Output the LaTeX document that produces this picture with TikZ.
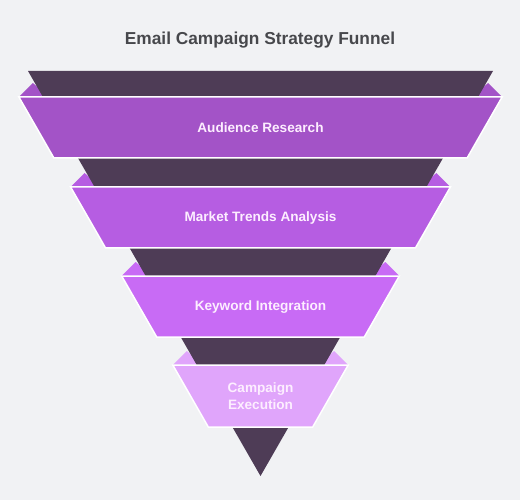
\documentclass[tikz,border=0pt]{standalone}
\usepackage{fontspec}
\setmainfont{Liberation Sans}

\definecolor{bgcol}{HTML}{F1F2F4}
\definecolor{darkcol}{HTML}{4E3C56}
\definecolor{titlecol}{HTML}{47484C}
\definecolor{labelcol}{HTML}{FDEEFF}
\definecolor{bandA}{HTML}{A353C7}
\definecolor{bandB}{HTML}{B65DE2}
\definecolor{bandC}{HTML}{C86BF5}
\definecolor{bandD}{HTML}{E0A5FB}

\begin{document}
\begin{tikzpicture}[x=1pt, y=-1pt]
\tikzset{
    band/.style={draw=white, line width=1.5pt, line join=miter},
    wing/.style={draw=none},
    funnel/.style={fill=darkcol, draw=none},
    label/.style={text=labelcol, font=\bfseries\fontsize{13.6}{17}\selectfont, align=center},
    heading/.style={text=titlecol, font=\bfseries\fontsize{17.3}{20}\selectfont}
}

  \fill[bgcol] (0,0) rectangle (520,500);
  \useasboundingbox (0,0) rectangle (520,500);

  \node[heading] (title) at (260,40) {Email Campaign Strategy Funnel};

  % wings behind the funnel
  \fill[wing, bandA] (18.9,97) -- (48.9,97) -- (32.9,83) -- cycle;
  \fill[wing, bandA] (502.1,97) -- (472.1,97) -- (488.1,83) -- cycle;
  \fill[wing, bandB] (70.6,187) -- (100.6,187) -- (84.6,173) -- cycle;
  \fill[wing, bandB] (450.4,187) -- (420.4,187) -- (436.4,173) -- cycle;
  \fill[wing, bandC] (121.7,276) -- (151.7,276) -- (135.7,262) -- cycle;
  \fill[wing, bandC] (399.3,276) -- (369.3,276) -- (385.3,262) -- cycle;
  \fill[wing, bandD] (172.8,365) -- (202.8,365) -- (186.8,351) -- cycle;
  \fill[wing, bandD] (348.2,365) -- (318.2,365) -- (334.2,351) -- cycle;

  % dark funnel
  \path[funnel] (28,71) -- (493,71) -- (260.5,476) -- cycle;

  % bands
  \path[band, fill=bandA] (18.9,97) -- (502.1,97) -- (467.1,158) -- (53.9,158) -- cycle;
  \path[band, fill=bandB] (70.6,187) -- (450.4,187) -- (415.4,248) -- (105.6,248) -- cycle;
  \path[band, fill=bandC] (121.7,276) -- (399.3,276) -- (364.3,337) -- (156.7,337) -- cycle;
  \path[band, fill=bandD] (172.8,365) -- (348.2,365) -- (312.7,427) -- (208.3,427) -- cycle;

  \node[label] (research) at (260.5,128) {Audience Research};
  \node[label] (trends) at (260.5,218) {Market Trends Analysis};
  \node[label] (keyword) at (260.5,307) {Keyword Integration};
  \node[label] (execution) at (260.5,396.5) {Campaign\\Execution};
\end{tikzpicture}
\end{document}
